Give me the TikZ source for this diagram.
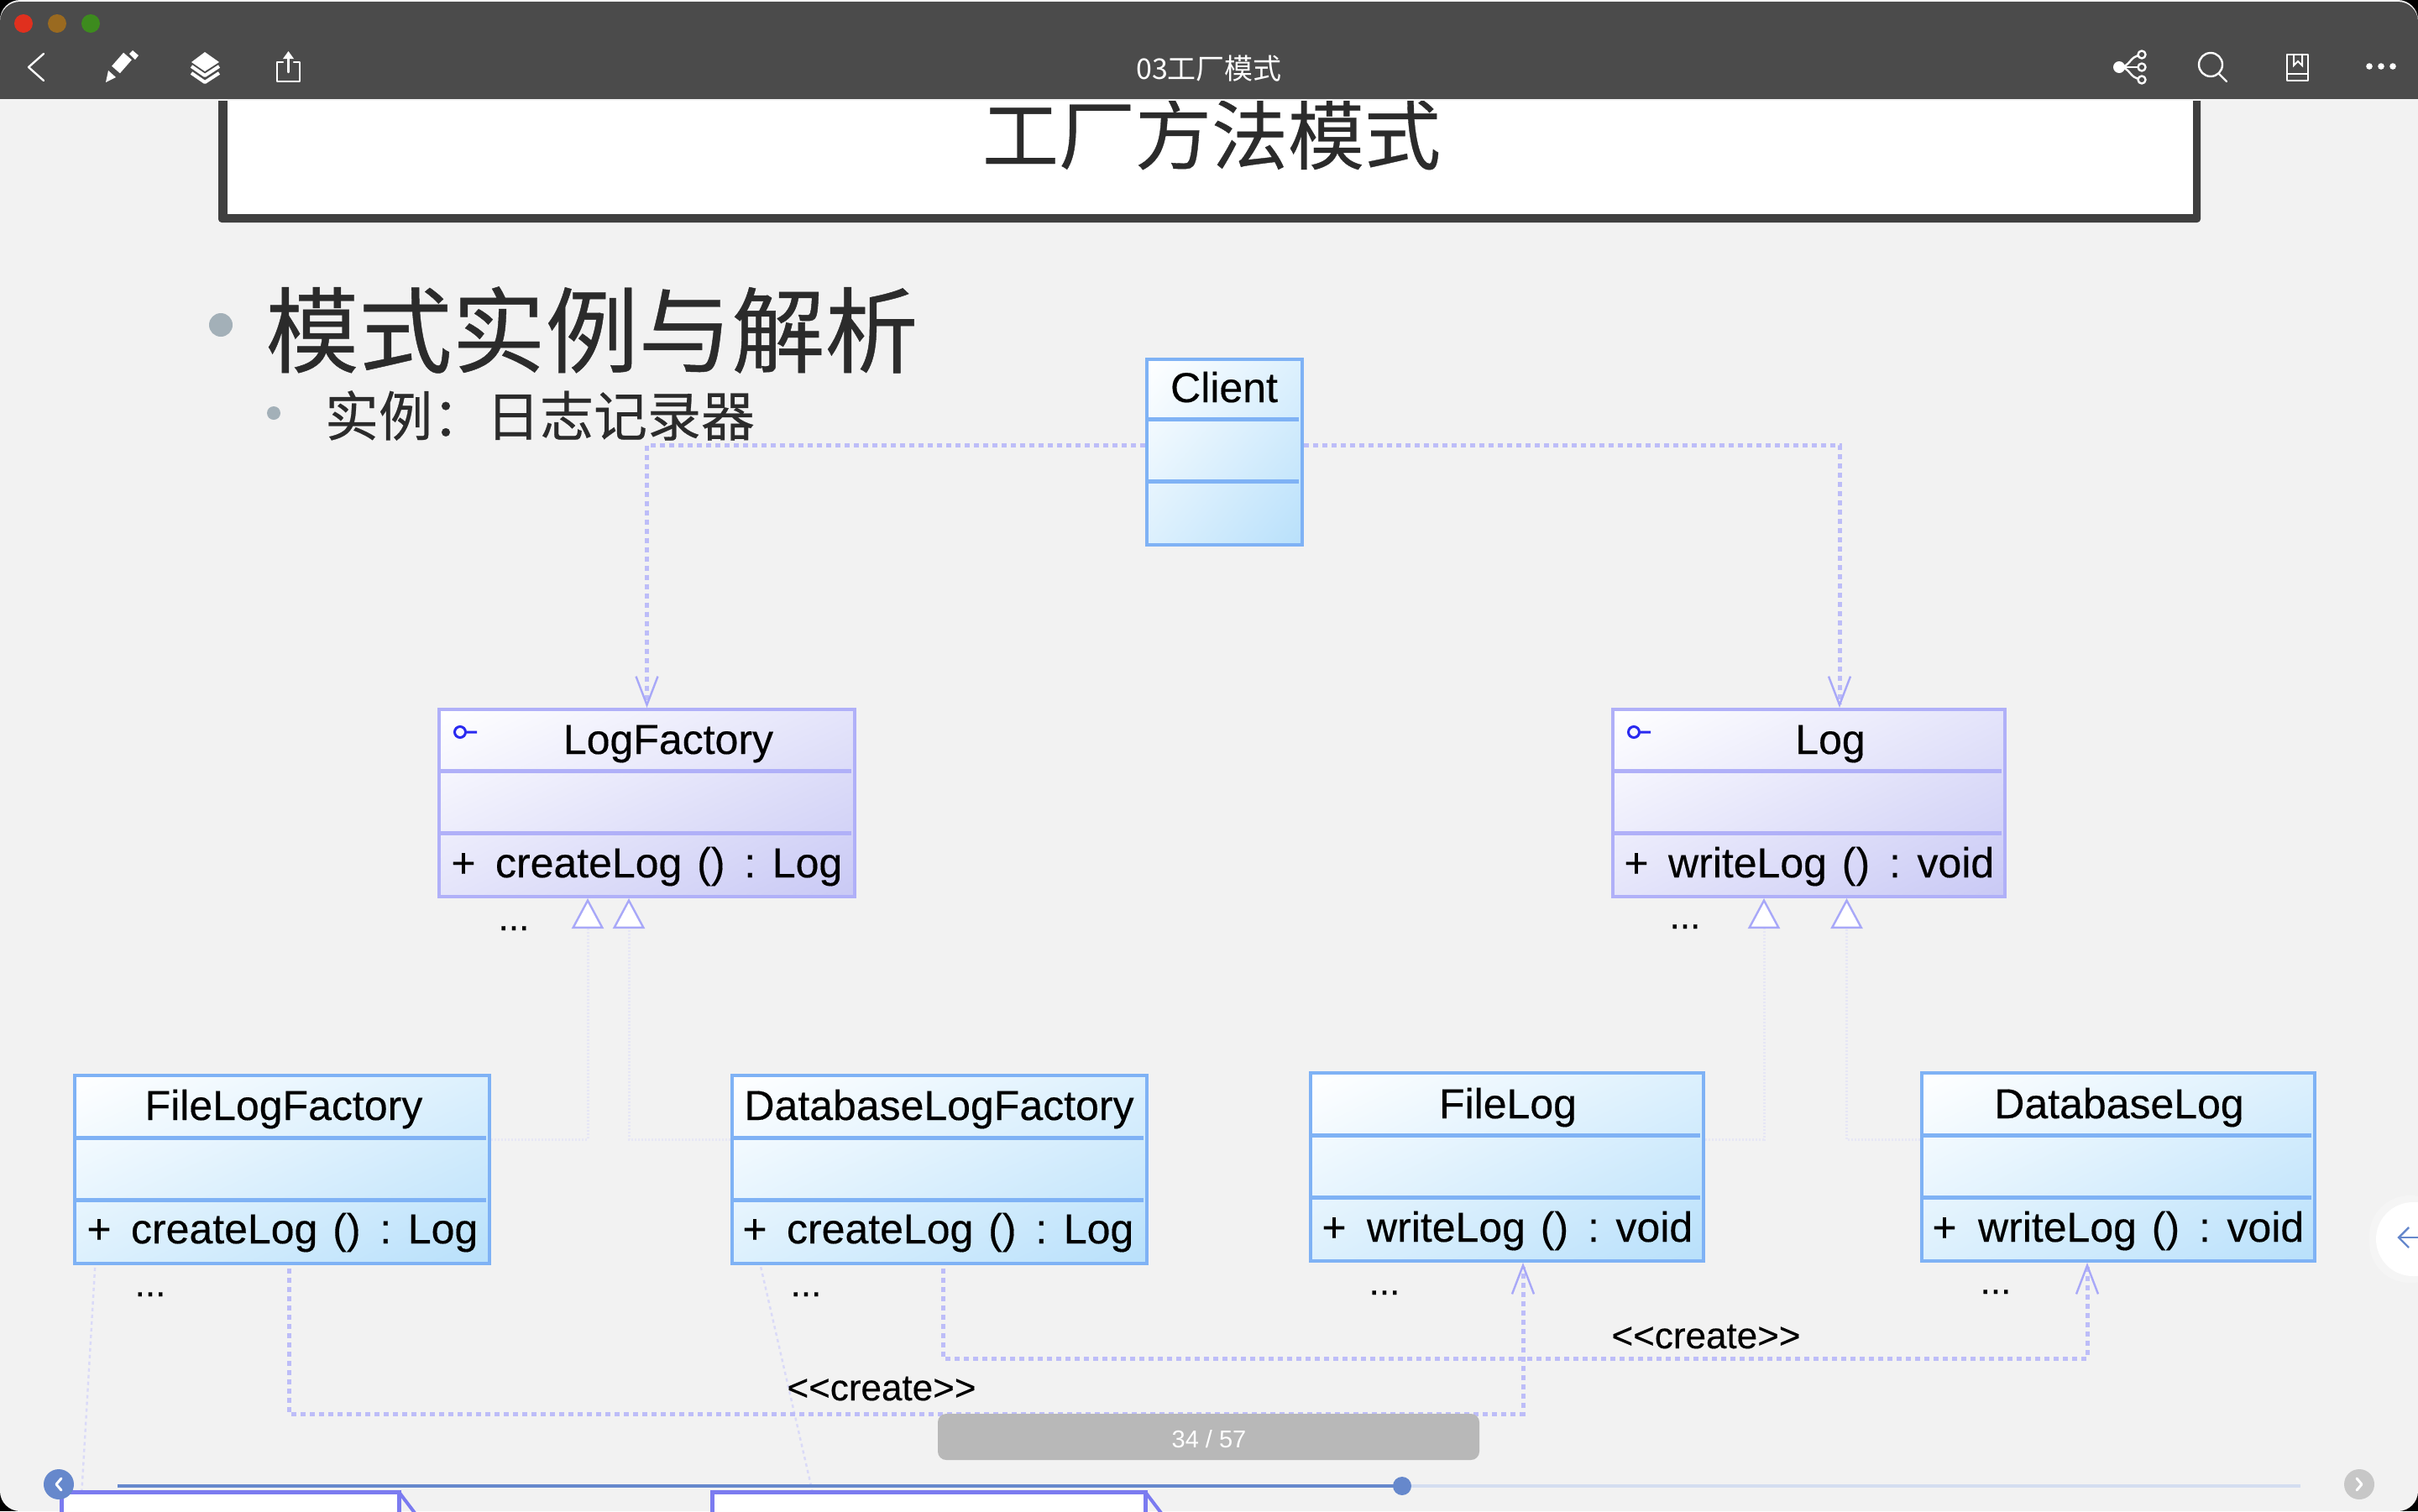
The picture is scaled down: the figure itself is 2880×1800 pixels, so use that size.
\documentclass[tikz,border=0pt]{standalone}
\usepackage{fontspec}
\setmainfont{Liberation Sans}
\newfontfamily\umlf{Liberation Sans}[FakeBold=0.3]
\newfontfamily\cjk{Noto Sans CJK SC}
\newfontfamily\cjkh{Noto Sans CJK SC}[FakeBold=0.4]
\usetikzlibrary{fit,arrows.meta,calc,shadings}
\definecolor{winbg}{HTML}{F2F2F2}
\definecolor{barbg}{HTML}{4B4B4B}
\definecolor{frameC}{HTML}{3F3F3F}
\definecolor{inkC}{HTML}{2B2B2B}
\definecolor{bulletC}{HTML}{A3B0B8}
\definecolor{blueLine}{HTML}{7FB2F5}
\definecolor{blueEnd}{HTML}{B8E0FB}
\definecolor{blueMid}{HTML}{DCF0FD}
\definecolor{purpLine}{HTML}{B0B0F8}
\definecolor{purpEnd}{HTML}{C9C9F5}
\definecolor{purpMid}{HTML}{E4E4FA}
\definecolor{depC}{HTML}{BDBDF8}
\definecolor{faintC}{HTML}{E6E6F5}
\definecolor{slantC}{HTML}{DADAF8}
\definecolor{tipC}{HTML}{A8A8F8}
\definecolor{progC}{HTML}{6688CC}
\definecolor{progL}{HTML}{D4DDF0}
\definecolor{pillC}{HTML}{B8B8B8}
\definecolor{slideC}{HTML}{7B7BF0}
\definecolor{keyC}{HTML}{2A2AF0}
\definecolor{redB}{HTML}{E0301E}
\definecolor{ambB}{HTML}{9A6A20}
\definecolor{grnB}{HTML}{3D8B1E}
\newcommand{\fsz}[1]{\fontsize{#1}{#1}\selectfont}
\newcommand{\mthC}{createLog\hspace{2pt} ()\hspace{4.5pt} :\hspace{0.5pt} Log}
\newcommand{\mthW}{writeLog\hspace{2pt} ()\hspace{4.5pt} :\hspace{0.5pt} void}
\newcommand{\crt}{<\kern0pt<create>\kern0pt>}
\tikzset{
  x=0.5pt,y=-0.5pt,
  txt/.style={inner sep=0,outer sep=0,font=\umlf\fsz{25},text=black},
  nameT/.style={txt,anchor=base},
  plusT/.style={txt,anchor=base},
  methT/.style={txt,anchor=base west},
  moreT/.style={txt,anchor=base,font=\umlf\fsz{22}},
  stereo/.style={txt,anchor=base,font=\umlf\fsz{22}},
  clsblue/.style={inner sep=0,outer sep=1pt,draw=blueLine,line width=2pt,shade,upper left=white,lower right=blueEnd,upper right=blueMid,lower left=blueMid},
  clspurp/.style={inner sep=0,outer sep=1pt,draw=purpLine,line width=2pt,shade,upper left=white,lower right=purpEnd,upper right=purpMid,lower left=purpMid},
  divblue/.style={draw=blueLine,line width=2.5pt},
  divpurp/.style={draw=purpLine,line width=2.5pt},
  dep/.style={draw=depC,line width=2.5pt,dash pattern=on 3pt off 2.5pt},
  deparrow/.style={dep,-{Straight Barb[length=17pt,width=13pt,line width=1.2pt,color=tipC]}},
  gen/.style={draw=faintC,line width=1.5pt,dash pattern=on 1pt off 1pt,-{Triangle[length=18pt,width=19pt,line width=1.2pt,color=tipC,fill=white]}},
  slant/.style={draw=slantC,line width=1.2pt,dash pattern=on 2pt off 2pt},
  icon/.style={draw=white,line width=1.2pt,line cap=round,line join=round},
  keyi/.style={draw=keyC,line width=1.5pt},
  slidebox/.style={draw=slideC,line width=2.5pt,fill=white},
  slideedge/.style={draw=slideC,line width=2pt},
}
\newcommand{\umlclass}[8]{% style, name, l,t,r,b,d1,d2
  \node[cls#1,fit={(#3+2,#4+2) (#5-2,#6-2)}] (#2) {};
  \draw[div#1] (#3,#7) -- (#5-6,#7);
  \draw[div#1] (#3,#8) -- (#5-6,#8);
}
\begin{document}
\begin{tikzpicture}
\useasboundingbox (0,0) rectangle (2880,1800);
% window
\fill[black] (0,0) rectangle (2880,1800);
\fill[winbg,rounded corners=12pt] (0,0) rectangle (2880,1800);
% title frame
\fill[frameC,rounded corners=2pt] (260,100) rectangle (2621,265);
\fill[white] (271,100) rectangle (2612,255);
\node[inner sep=0,text=inkC,font=\cjkh\fsz{45.5}] (title) at (1443,160) {工厂方法模式};
% title bar
\fill[barbg,rounded corners=12pt] (0,2) rectangle (2880,60);
\fill[barbg] (0,30) rectangle (2880,118);
\fill[winbg] (0,118) rectangle (2880,120);
\fill[redB] (28,28) circle[radius=11];
\fill[ambB] (68,28) circle[radius=11];
\fill[grnB] (108,28) circle[radius=11];
\node[inner sep=0,text=white,font=\cjk\fsz{17}] (doc) at (1440,82) {03工厂模式};
% left icons
\draw[icon] (52,64) -- (34,80) -- (52,96);
\draw[white,line width=6.5pt] (138,83) -- (152,67);
\fill[white] (126,98) -- (129,84) -- (138,92) -- cycle;
\fill[white] (154,64) -- (158,60) -- (165,66) -- (161,71) -- cycle;
\fill[white] (244,62) -- (261,74) -- (244,85) -- (228,74) -- cycle;
\draw[white,line width=2pt,line join=round] (228,79) -- (244,90) -- (261,79);
\draw[white,line width=2pt,line join=round] (228,87) -- (244,98) -- (261,87);
\draw[icon] (337,74) -- (330,74) -- (330,97) -- (357,97) -- (357,74) -- (350,74);
\draw[icon] (343.5,86) -- (343.5,64);
\fill[white] (343.5,61) -- (350,70) -- (337,70) -- cycle;
% right icons
\fill[white] (2524,80) circle[radius=7];
\draw[icon] (2524,80) .. controls (2538,80) and (2536,66) .. (2550,66);
\draw[icon] (2524,80) -- (2548,80);
\draw[icon] (2524,80) .. controls (2538,80) and (2536,94) .. (2550,94);
\draw[icon,fill=barbg] (2551,65) circle[radius=4.5];
\draw[icon,fill=barbg] (2551,80) circle[radius=4.5];
\draw[icon,fill=barbg] (2551,95) circle[radius=4.5];
\draw[icon] (2633,77) circle[radius=14];
\draw[icon] (2643,88) -- (2652,97);
\draw[icon] (2724,65) rectangle (2749,96);
\draw[icon] (2724,88) -- (2749,88);
\draw[white,line width=1pt] (2732,66) -- (2732,78) -- (2737,73) -- (2742,78) -- (2742,66);
\fill[white] (2822,79) circle[radius=3.8] (2836,79) circle[radius=3.8] (2850,79) circle[radius=3.8];
% bullets and headings
\fill[bulletC] (263,387) circle[radius=14];
\node[inner sep=0,text=inkC,font=\cjkh\fsz{55.5}] (h1) at (705,393) {模式实例与解析};
\fill[bulletC] (326,492) circle[radius=8];
\node[inner sep=0,text=inkC,font=\cjkh\fsz{32}] (h2) at (643,495) {实例：日志记录器};
% faint slanted lines
\draw[slant] (115,1478) -- (96,1800);
\draw[slant] (899,1478) -- (973,1800);
% classes
\umlclass{blue}{client}{1364}{426}{1553}{651}{499}{573}
\umlclass{purp}{lf}{521}{843}{1020}{1070}{918}{992}
\umlclass{purp}{logc}{1919}{843}{2390}{1070}{918}{992}
\umlclass{blue}{flf}{87}{1279}{585}{1507}{1355}{1429}
\umlclass{blue}{dlf}{870}{1279}{1368}{1507}{1355}{1429}
\umlclass{blue}{fl}{1559}{1276}{2031}{1504}{1352}{1426}
\umlclass{blue}{dl}{2287}{1276}{2759}{1504}{1352}{1426}
% key icons
\draw[keyi] (548,872) circle[radius=6.5] (554.5,872) -- (568,872);
\draw[keyi] (1946,872) circle[radius=6.5] (1952.5,872) -- (1966,872);
% class texts
\node[nameT] (tClient) at (1458,479) {Client};
\node[nameT] (tLF) at (796,898) {LogFactory};
\node[nameT] (tLog) at (2180,898) {Log};
\node[nameT] (tFLF) at (338,1334) {FileLogFactory};
\node[nameT] (tDLF) at (1118.5,1334) {DatabaseLogFactory};
\node[nameT] (tFL) at (1796,1332) {FileLog};
\node[nameT] (tDL) at (2524,1332) {DatabaseLog};
\node[plusT] (pLF) at (552,1045) {+};
\node[methT] (mLF) at (590,1045) {\mthC};
\node[plusT] (pLog) at (1949,1045) {+};
\node[methT] (mLog) at (1987,1045) {\mthW};
\node[plusT] (pFLF) at (118,1481) {+};
\node[methT] (mFLF) at (156,1481) {\mthC};
\node[plusT] (pDLF) at (899,1481) {+};
\node[methT] (mDLF) at (937,1481) {\mthC};
\node[plusT] (pFL) at (1589,1479) {+};
\node[methT] (mFL) at (1628,1479) {\mthW};
\node[plusT] (pDL) at (2316,1479) {+};
\node[methT] (mDL) at (2356,1479) {\mthW};
\node[moreT] (d1) at (612,1108) {...};
\node[moreT] (d2) at (2007,1106) {...};
\node[moreT] (d3) at (179,1544) {...};
\node[moreT] (d4) at (960,1544) {...};
\node[moreT] (d5) at (1649,1542) {...};
\node[moreT] (d6) at (2377,1541) {...};
% client dependencies
\draw[deparrow] ([shift={(0,-8.5)}]client.west) -| (lf.north);
\draw[deparrow] ([shift={(0,-8.5)}]client.east) -| ([shift={(36.5,0)}]logc.north);
% generalisations
\draw[gen] ([shift={(0,-36)}]flf.east) -| ([shift={(-70.5,0)}]lf.south);
\draw[gen] ([shift={(0,-36)}]dlf.west) -| ([shift={(-21.5,0)}]lf.south);
\draw[gen] ([shift={(0,-33)}]fl.east) -| ([shift={(-53.5,0)}]logc.south);
\draw[gen] ([shift={(0,-33)}]dl.west) -| ([shift={(45,0)}]logc.south);
% create dependencies
\coordinate (c1) at (344,1684);
\coordinate (c2) at (1123,1618);
\coordinate (c3) at (2486,1504);
\coordinate (c4) at (1814,1504);
\draw[deparrow] ([shift={(8,4)}]flf.south) -- (c1) -| (c4);
\draw[deparrow] ([shift={(4,4)}]dlf.south) -- (c2) -| (c3);
\node[stereo] (s1) at (1050,1668) {\crt};
\node[stereo] (s2) at (2032,1606) {\crt};
% page pill
\fill[pillC,rounded corners=5pt] (1117,1684) rectangle (1762,1739);
\node[inner sep=0,text=white,font=\fsz{14.5}] (page) at (1440,1714) {34 / 57};
% next slide thumbnails
\draw[slidebox] (73,1810) -- (73,1777) -- (475,1777) -- (475,1810);
\draw[slideedge] (475,1777) -- (500,1810);
\draw[slidebox] (848,1810) -- (848,1777) -- (1364,1777) -- (1364,1810);
\draw[slideedge] (1364,1777) -- (1389,1810);
% progress
\draw[progC,line width=2pt] (140,1770) -- (1670,1770);
\draw[progL,line width=2pt] (1670,1770) -- (2740,1770);
\fill[progC] (1670,1770) circle[radius=11];
\fill[progC] (70,1768) circle[radius=18];
\draw[white,line width=1.5pt,line cap=round,line join=round] (73,1761) -- (67,1768) -- (73,1775);
\fill[black!22] (2810,1768) circle[radius=18];
\draw[white,line width=1.5pt,line cap=round,line join=round] (2807,1761) -- (2813,1768) -- (2807,1775);
% side tab
\fill[black!4,rounded corners=24pt] (2822,1424) rectangle (2920,1528);
\fill[white,rounded corners=22pt] (2830,1432) rectangle (2920,1520);
\draw[progC,line width=1.2pt] (2880,1474) -- (2857,1474);
\draw[progC,line width=1.2pt] (2869,1462) -- (2857,1474) -- (2869,1486);
\end{tikzpicture}
\end{document}
